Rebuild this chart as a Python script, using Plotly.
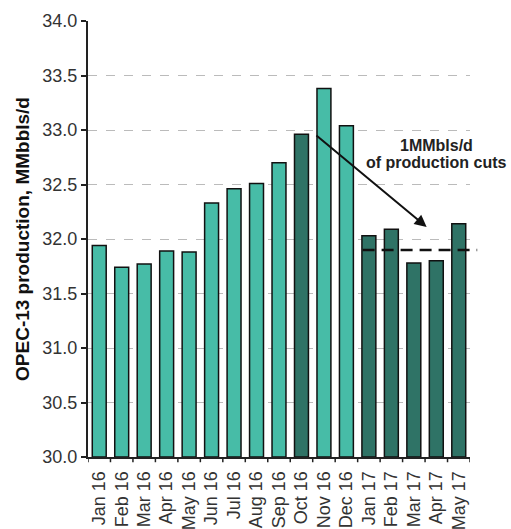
import plotly.graph_objects as go

months = ["Jan 16", "Feb 16", "Mar 16", "Apr 16", "May 16", "Jun 16", "Jul 16", "Aug 16",
          "Sep 16", "Oct 16", "Nov 16", "Dec 16", "Jan 17", "Feb 17", "Mar 17", "Apr 17", "May 17"]
production = [31.94, 31.74, 31.77, 31.89, 31.88, 32.33, 32.46, 32.51,
              32.70, 32.96, 33.38, 33.04, 32.03, 32.09, 31.78, 31.80, 32.14]
highlight = [False] * 9 + [True] + [False, False] + [True] * 5
target_level = 31.90
y_ticks = [30.0, 30.5, 31.0, 31.5, 32.0, 32.5, 33.0, 33.5, 34.0]

LIGHT = "#47BCA7"
DARK = "#2F7366"
FONT = "Liberation Sans, Arial"
colors = [DARK if h else LIGHT for h in highlight]
xs = list(range(len(months)))

fig = go.Figure()
fig.add_trace(go.Bar(
    x=xs, y=[v - 30.0 for v in production], base=30.0,
    marker=dict(color=colors, line=dict(color="#111111", width=1.5)),
    width=0.62, showlegend=False,
))

n = len(months)
def to_paper(i):
    return (i + 0.5) / n

fig.add_shape(type="line", xref="paper", yref="y",
              x0=to_paper(11.72), x1=to_paper(16.82), y0=target_level, y1=target_level,
              line=dict(color="#111111", width=2.5, dash="12px,7px"))

fig.add_annotation(x=14.57, y=32.11, ax=9.6, ay=production[9], xref="x", yref="y",
                   axref="x", ayref="y", showarrow=True, arrowhead=2, arrowsize=1.2,
                   arrowwidth=2, arrowcolor="#111111", text="")
fig.add_annotation(x=0.911, y=32.86, xref="paper", yref="y", xanchor="center",
                   text="<b>1MMbls/d</b>", showarrow=False,
                   font=dict(size=16, color="#222222", family=FONT), yanchor="middle")
fig.add_annotation(x=0.911, y=32.70, xref="paper", yref="y", xanchor="center",
                   text="<b>of production cuts</b>", showarrow=False,
                   font=dict(size=16, color="#222222", family=FONT), yanchor="middle")

fig.update_layout(
    width=511, height=529,
    margin=dict(l=88, r=41, t=21, b=72),
    paper_bgcolor="white", plot_bgcolor="white",
    font=dict(family=FONT, color="#333333"),
)
fig.update_xaxes(
    range=[-0.5, n - 0.5], tickmode="array", tickvals=xs, ticktext=months,
    tickangle=-90, tickfont=dict(size=18, color="#333333"), automargin=False,
    showline=True, linecolor="#222222", linewidth=2,
    ticks="outside", ticklen=5, tickcolor="rgba(0,0,0,0)", showgrid=False, zeroline=False,
)
for b in range(n + 1):
    fig.add_shape(type="line", xref="x", yref="paper", x0=b - 0.5, x1=b - 0.5,
                  y0=0, y1=-0.012, line=dict(color="#222222", width=1.5))
fig.update_yaxes(
    range=[30.0, 34.0], tickmode="array", tickvals=y_ticks,
    ticktext=[f"{v:.1f}" for v in y_ticks], automargin=False,
    tickfont=dict(size=18, color="#333333"),
    showline=True, linecolor="#222222", linewidth=2,
    ticks="outside", ticklen=5, tickcolor="#222222", tickwidth=1.5,
    showgrid=True, gridcolor="#BBBBBB", griddash="dash", gridwidth=1,
    zeroline=False,
    title=dict(text="<b>OPEC-13 production, MMbbls/d</b>", font=dict(size=19, color="#111111"), standoff=8),
)

fig.write_html("out.html")
